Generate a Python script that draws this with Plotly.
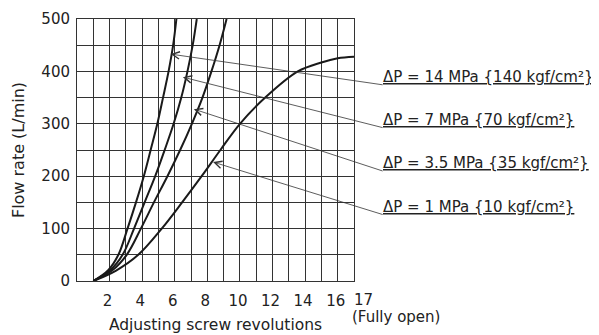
import plotly.graph_objs as go

# colours / font
LINE = '#1a1a1a'
GRID = '#333333'
TEXT = '#222222'
FONT = 'DejaVu Sans'

# flow rate (L/min) against adjusting screw revolutions, one list per pressure
flow_steep = [0, 20, 50, 100, 150, 200, 250, 300, 350, 400, 450, 500]
rev_14mpa = [1, 1.9, 2.54, 3.1, 3.62, 4.1, 4.52, 4.93, 5.28, 5.62, 5.9, 6.1]
rev_7mpa = [1, 2.02, 2.8, 3.5, 4.15, 4.8, 5.38, 5.93, 6.4, 6.78, 7.1, 7.35]
rev_35mpa = [1, 2.15, 3.05, 3.92, 4.72, 5.55, 6.33, 7.05, 7.7, 8.25, 8.75, 9.18]

flow_1mpa = [0, 20, 50, 100, 150, 200, 250, 300, 350, 400, 417, 425, 428]
rev_1mpa = [1, 2.4, 3.76, 5.2, 6.45, 7.65, 8.8, 10.0, 11.55, 13.55, 15.0, 16.0, 17.0]

# legend labels, arrow tips on each curve, and where each label sits
labels = ['ΔP = 14 MPa {140 kgf/cm²}', 'ΔP = 7 MPa {70 kgf/cm²}',
          'ΔP = 3.5 MPa {35 kgf/cm²}', 'ΔP = 1 MPa {10 kgf/cm²}']
tip_rev = [5.75, 6.5, 7.17, 8.35]
tip_flow = [433, 389, 328, 227]
label_rev = [18.85, 18.85, 18.85, 18.85]
label_flow = [374, 292, 209, 126]

x_ticks = [2, 4, 6, 8, 10, 12, 14, 16]
X_MAX = 17
Y_MAX = 500

fig = go.Figure()
for rev, flow in [(rev_14mpa, flow_steep), (rev_7mpa, flow_steep),
                  (rev_35mpa, flow_steep), (rev_1mpa, flow_1mpa)]:
    fig.add_trace(go.Scatter(
        x=rev, y=flow, mode='lines',
        line=dict(color=LINE, width=2, shape='spline'),
        showlegend=False, hoverinfo='skip'
    ))

annotations = []
for i in range(len(labels)):
    # leader line with open arrowhead
    annotations.append(dict(
        x=tip_rev[i], y=tip_flow[i], xref='x', yref='y',
        ax=label_rev[i], ay=label_flow[i], axref='x', ayref='y',
        text='', showarrow=True, arrowhead=5, arrowsize=1.8,
        arrowwidth=0.8, arrowcolor='#333', standoff=0
    ))
    # underlined label (paper coords, it sits outside the axes)
    annotations.append(dict(
        x=label_rev[i] / X_MAX, y=label_flow[i] / Y_MAX, xref='paper', yref='paper',
        text='<u>' + labels[i] + '</u>', showarrow=False,
        xanchor='left', yanchor='bottom', xshift=-3, yshift=-3,
        font=dict(family=FONT, size=15, color=TEXT)
    ))

# the last tick and its note
annotations.append(dict(
    x=17, y=0, xref='x', yref='paper', text='17', showarrow=False,
    xanchor='left', yanchor='top', xshift=-2, yshift=-8,
    font=dict(family=FONT, size=15, color=TEXT)
))
annotations.append(dict(
    x=17, y=0, xref='x', yref='paper', text='(Fully open)', showarrow=False,
    xanchor='left', yanchor='top', xshift=-4, yshift=-25,
    font=dict(family=FONT, size=15, color=TEXT)
))

# page body has an 8px margin, so the figure is a bit smaller than the window
fig.update_layout(
    width=591, height=327,
    margin=dict(l=69, r=245, t=11, b=54),
    plot_bgcolor='white', paper_bgcolor='white',
    font=dict(family=FONT, size=15, color=TEXT),
    annotations=annotations,
    xaxis=dict(
        range=[0, X_MAX], tickmode='array', tickvals=x_ticks,
        showgrid=True, gridcolor=GRID, gridwidth=1,
        minor=dict(dtick=1, tick0=0, showgrid=True, gridcolor=GRID, gridwidth=1),
        showline=True, mirror=True, linecolor=GRID, linewidth=1,
        zeroline=False, ticks='', tickangle=0, ticklabelstandoff=6,
        ticklabelshift=-2,
        title=dict(text='Adjusting screw revolutions', standoff=10,
                   font=dict(family=FONT, size=15.5, color=TEXT)),
        automargin=False, fixedrange=True
    ),
    yaxis=dict(
        range=[0, Y_MAX], dtick=100,
        showgrid=True, gridcolor=GRID, gridwidth=1,
        minor=dict(dtick=50, showgrid=True, gridcolor=GRID, gridwidth=1),
        showline=True, mirror=True, linecolor=GRID, linewidth=1,
        zeroline=False, ticks='', ticklabelstandoff=3,
        title=dict(text='Flow rate (L/min)', standoff=12,
                   font=dict(family=FONT, size=16, color=TEXT)),
        automargin=False, fixedrange=True
    )
)

fig.write_html("out.html")
